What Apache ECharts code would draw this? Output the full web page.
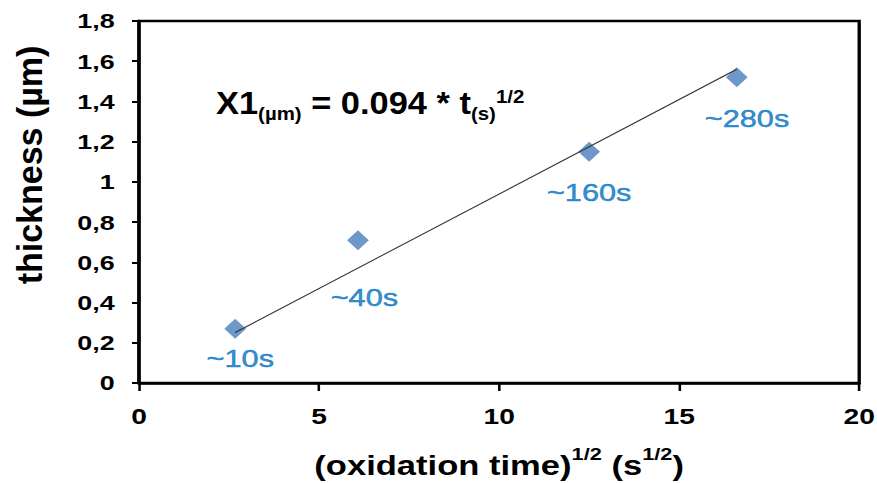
<!DOCTYPE html>
<html>
<head>
<meta charset="utf-8">
<script src="https://cdn.jsdelivr.net/npm/echarts@6/dist/echarts.min.js"></script>
<style>
html,body{margin:0;padding:0;background:#fff;}
#wrap{width:877px;height:483px;overflow:hidden;position:relative;background:#fff;}
#c{width:685px;height:483px;transform:scaleX(1.2803);transform-origin:0 0;}
</style>
</head>
<body>
<div id="wrap"><div id="c"></div></div>
<script>
// ---- data ----
const xVals = [2.67, 6.08, 12.5, 16.6];          // (oxidation time)^1/2
const yVals = [0.27, 0.71, 1.15, 1.52];          // thickness (µm)
const pointLabels = ['~10s', '~40s', '~160s', '~280s'];
const trendX = [2.67, 16.6];
const trendY = [0.251, 1.56];
const yTickLabels = ['0', '0,2', '0,4', '0,6', '0,8', '1', '1,2', '1,4', '1,6', '1,8'];
const xTickLabels = ['0', '5', '10', '15', '20'];

// ---- styles ----
const FONT = 'Arial, "Liberation Sans", sans-serif';
const labelOffsets = [[4, 30], [5, 58], [0, 41], [8, 41]];

const chart = echarts.init(document.getElementById('c'), null, {renderer: 'svg'});

const option = {
  backgroundColor: '#fff',
  animation: false,
  grid: {left: 108.6, right: 13.9, top: 21, bottom: 100, show: true, borderColor: '#000', borderWidth: 2.6,
    backgroundColor: 'transparent', containLabel: false, outerBoundsMode: 'none'},
  xAxis: {
    type: 'value', min: 0, max: 20, interval: 5,
    axisLine: {show: true, onZero: false, lineStyle: {color: '#000', width: 2.6}},
    axisTick: {show: true, length: 8, lineStyle: {color: '#000', width: 2}},
    splitLine: {show: false},
    axisLabel: {margin: 22, color: '#000', fontSize: 22, fontWeight: 'bold', fontFamily: FONT,
      formatter: v => xTickLabels[Math.round(v / 5)]},
    name: '{a|(oxidation time)}{s|1/2}{a| (s}{s|1/2}{a|)}',
    nameLocation: 'middle', nameGap: 62,
    nameTextStyle: {
      rich: {
        a: {fontSize: 27, fontWeight: 'bold', fontFamily: FONT, color: '#000', lineHeight: 34, verticalAlign: 'bottom'},
        s: {fontSize: 17, fontWeight: 'bold', fontFamily: FONT, color: '#000', lineHeight: 34, verticalAlign: 'top'}
      }
    }
  },
  yAxis: {
    type: 'value', min: 0, max: 1.8, interval: 0.2,
    axisLine: {show: true, onZero: false, lineStyle: {color: '#000', width: 2.6}},
    axisTick: {show: true, length: 5.5, lineStyle: {color: '#000', width: 2}},
    splitLine: {show: false},
    axisLabel: {margin: 19, color: '#000', fontSize: 21, fontWeight: 'bold', fontFamily: FONT,
      formatter: v => yTickLabels[Math.round(v / 0.2)]}
  },
  graphic: [
    {
      type: 'text', x: 23.4, y: 165, rotation: Math.PI / 2, scaleY: 0.8,
      style: {text: 'thickness (µm)', font: 'bold 34px ' + FONT, fill: '#000', align: 'center', verticalAlign: 'middle'}
    },
    {
      type: 'text', x: 168.7, y: 103, scaleX: 0.84,
      style: {
        text: '{a|X1}{b|(µm)}{a| = 0.094 * t}{b|(s)}{c|1/2}',
        verticalAlign: 'middle',
        rich: {
          a: {fontSize: 32, fontWeight: 'bold', fontFamily: FONT, fill: '#000', lineHeight: 40, verticalAlign: 'middle'},
          b: {fontSize: 19, fontWeight: 'bold', fontFamily: FONT, fill: '#000', lineHeight: 40, verticalAlign: 'bottom'},
          c: {fontSize: 19, fontWeight: 'bold', fontFamily: FONT, fill: '#000', lineHeight: 40, verticalAlign: 'top', padding: [4, 0, 0, 0]}
        }
      }
    }
  ],
  series: [
    {
      type: 'scatter', symbol: 'diamond', symbolSize: [17, 20],
      itemStyle: {color: '#4A7EBB'},
      data: xVals.map((x, i) => ({value: [x, yVals[i]], label: {offset: labelOffsets[i]}})),
      label: {show: true, position: 'inside', color: '#0070C0', fontSize: 24, fontFamily: FONT,
        textBorderColor: '#0070C0', textBorderWidth: 0.5,
        formatter: p => pointLabels[p.dataIndex]},
      z: 2
    },
    {
      type: 'line', symbol: 'none', silent: true,
      data: trendX.map((x, i) => [x, trendY[i]]),
      lineStyle: {color: '#333', width: 1},
      z: 3
    }
  ]
};
chart.setOption(option);
</script>
</body>
</html>
